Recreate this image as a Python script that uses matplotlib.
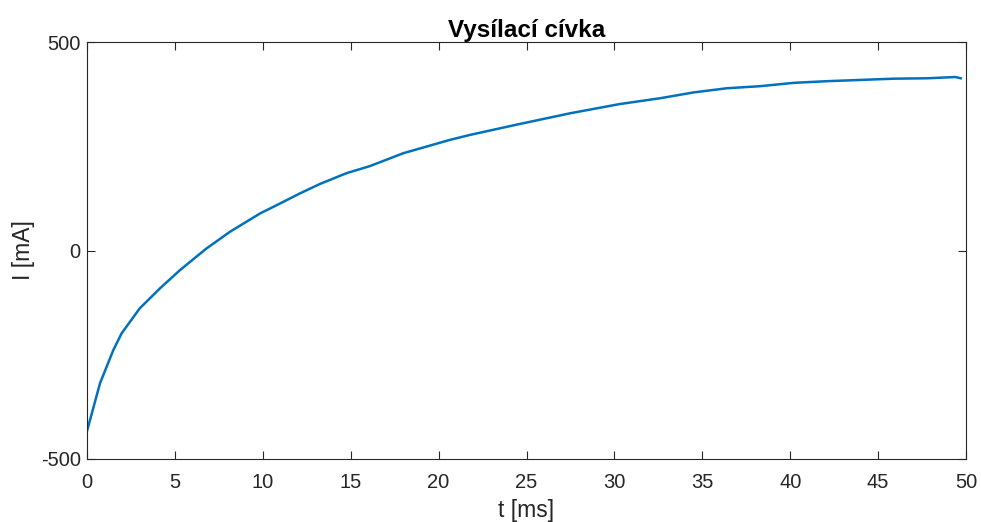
import matplotlib
matplotlib.use("Agg")
import matplotlib.pyplot as plt

plt.rcParams["font.family"] = ["Liberation Sans", "DejaVu Sans"]
plt.rcParams["axes.unicode_minus"] = False

# values (t in ms, I in mA)
t_ms = [0.0, 0.74, 1.5, 1.97, 3.0, 4.15, 5.29, 6.8, 8.13, 9.84, 10.98,
        12.1, 13.25, 14.77, 16.1, 18.0, 20.65, 21.8, 24.6, 27.5, 30.3,
        32.6, 34.5, 36.4, 38.3, 40.2, 42.1, 44.0, 45.9, 47.8, 49.4, 49.7]
I_mA = [-434, -319, -239, -199, -139, -91, -47, 5, 45, 89, 113,
        137, 160, 186, 203, 234, 266, 278, 304, 330, 352,
        366, 380, 390, 395, 403, 407, 410, 413, 414, 417, 414]

xticks = [0, 5, 10, 15, 20, 25, 30, 35, 40, 45, 50]
yticks = [-500, 0, 500]

dark = "#262626"

fig = plt.figure(figsize=(9.81, 5.22), dpi=100)
ax = fig.add_axes([0.0887, 0.1216, 0.896, 0.797])
ax.plot(t_ms, I_mA, color="#0072BD", lw=1.8)

ax.set_xlim(0, 50)
ax.set_ylim(-500, 500)
ax.set_xticks(xticks)
ax.set_yticks(yticks)
ax.tick_params(direction="in", top=True, right=True, length=6, width=0.8,
               colors=dark, labelsize=14.5)
ax.tick_params(axis="x", pad=10.5)
ax.tick_params(axis="y", pad=4.5)
for s in ax.spines.values():
    s.set_color(dark)
    s.set_linewidth(0.8)

ax.set_title("Vysílací cívka", fontsize=17.5, fontweight="bold", color="black", pad=4)
ax.set_xlabel("t [ms]", fontsize=16.5, color=dark, labelpad=5)
ax.set_ylabel("I [mA]", fontsize=16.5, color=dark, labelpad=4)

fig.savefig("out.png", dpi=100)
